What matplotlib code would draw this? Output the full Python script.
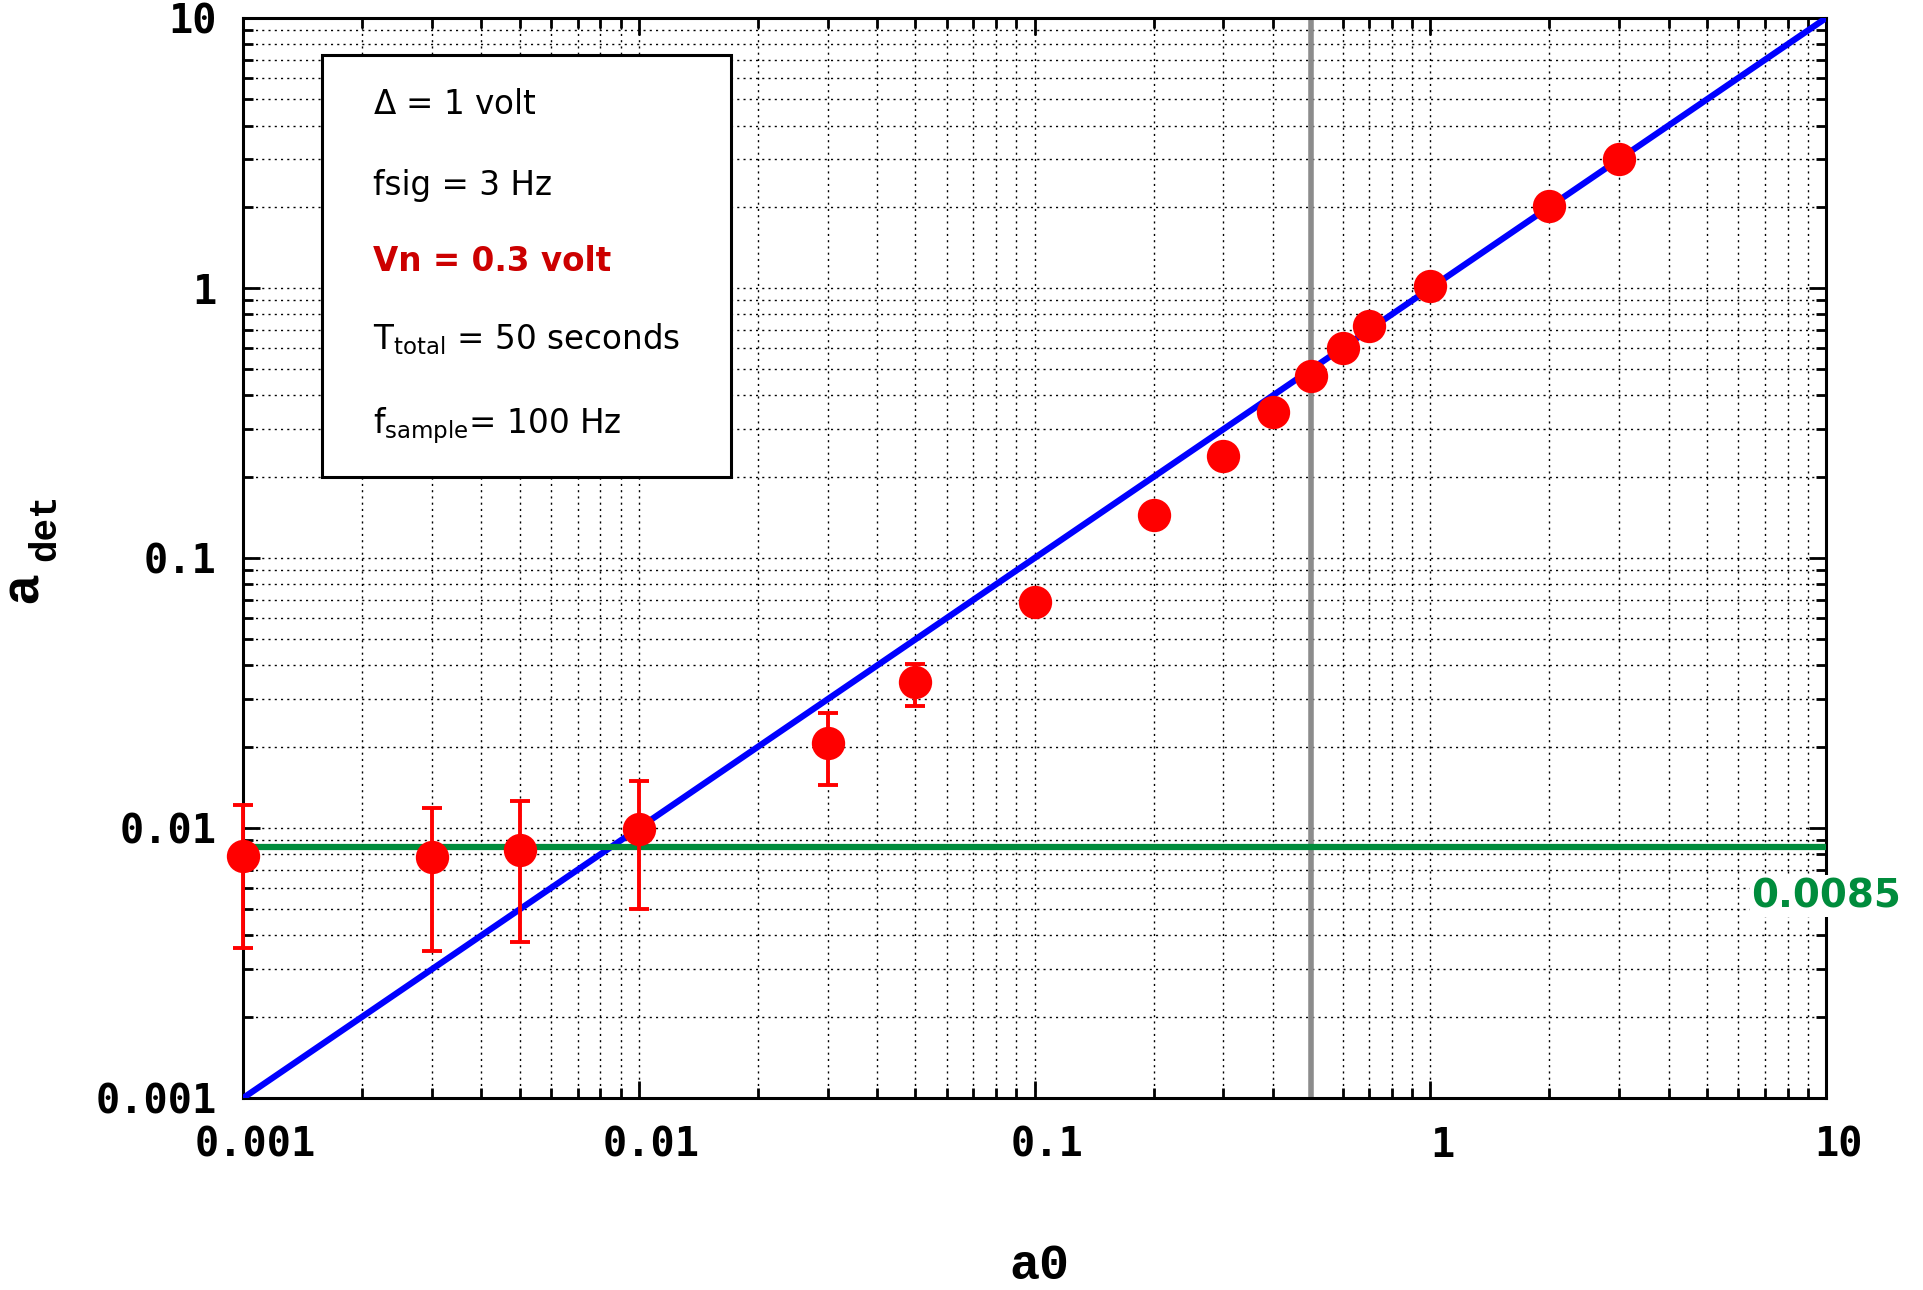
import numpy as np
import matplotlib
matplotlib.use("Agg")
import matplotlib.pyplot as plt
from matplotlib.ticker import LogLocator, NullFormatter, FixedFormatter, FixedLocator
from matplotlib.transforms import ScaledTranslation

# =========================
# DATA
# =========================

a0 = [0.001, 0.003, 0.005, 0.01, 0.03, 0.05, 0.1, 0.2, 0.3, 0.4, 0.5, 0.6, 0.7, 1.0, 2.0, 3.0]
a_det = [0.0079, 0.0078, 0.0083, 0.0099, 0.0206, 0.0348, 0.0686, 0.144, 0.238, 0.348,
         0.471, 0.598, 0.723, 1.02, 2.02, 3.0]
err_hi = [0.0122, 0.0119, 0.0126, 0.0149, 0.0267, 0.0406, 0.0686, 0.144, 0.238, 0.348,
          0.471, 0.598, 0.723, 1.02, 2.02, 3.0]
err_lo = [0.0036, 0.0035, 0.0038, 0.0050, 0.0144, 0.0282, 0.0686, 0.144, 0.238, 0.348,
          0.471, 0.598, 0.723, 1.02, 2.02, 3.0]

ideal_x = [0.001, 10]
threshold = 0.0085
a0_cut = 0.5

tick_vals = [0.001, 0.01, 0.1, 1, 10]
tick_labels = ["0.001", "0.01", "0.1", "1", "10"]

# =========================
# PLOT
# =========================

W, H = 1923, 1290
fig = plt.figure(figsize=(W / 100, H / 100), dpi=100)
ax = fig.add_axes([0.1264, 0.1488, 0.8232, 0.8372])

ax.set_xscale("log")
ax.set_yscale("log")
ax.set_xlim(0.001, 10)
ax.set_ylim(0.001, 10)

# grid
ax.grid(True, which="major", color="black", linestyle=(0, (1.5, 3)), linewidth=1.0)
ax.grid(True, which="minor", color="black", linestyle=(0, (1.5, 3)), linewidth=1.0)

# ideal line a_det = a0
ax.plot(ideal_x, ideal_x, color="#0000ff", linewidth=4.5, zorder=3)
# noise floor
ax.axhline(threshold, color="#008c3c", linewidth=4.5, zorder=3)
# cut line
ax.axvline(a0_cut, color="#8c8c8c", linewidth=4, zorder=2)

yerr = [np.array(a_det) - np.array(err_lo), np.array(err_hi) - np.array(a_det)]
ax.errorbar(a0, a_det, yerr=yerr, fmt="none", ecolor="red", elinewidth=2.8,
            capsize=7, capthick=2.8, zorder=4, clip_on=False)
ax.plot(a0, a_det, "o", color="red", markersize=24, markeredgewidth=0, zorder=5, clip_on=False)

ax.text(1.0, 0.0056, "0.0085", transform=ax.get_yaxis_transform(), color="#008c3c",
        fontsize=28, fontweight="bold", family="DejaVu Sans", ha="center", va="center",
        zorder=6, bbox=dict(facecolor="white", edgecolor="none", pad=1))

# info box
ax.add_patch(plt.Rectangle((0.050, 0.575), 0.258, 0.391, transform=ax.transAxes,
                           facecolor="white", edgecolor="black", linewidth=2.2, zorder=6))
box_x = 0.082
fs = 23.5
ax.text(box_x, 0.920, r"$\Delta$ = 1 volt", transform=ax.transAxes, fontsize=fs,
        va="center", zorder=7)
ax.text(box_x, 0.845, "fsig = 3 Hz", transform=ax.transAxes, fontsize=fs,
        va="center", zorder=7)
ax.text(box_x, 0.775, "Vn = 0.3 volt", transform=ax.transAxes, fontsize=fs,
        fontweight="bold", color="#cc0000", va="center", zorder=7)
ax.text(box_x, 0.703, r"T$_{\mathregular{total}}$ = 50 seconds", transform=ax.transAxes,
        fontsize=fs, va="center", zorder=7)
ax.text(box_x, 0.623, r"f$_{\mathregular{sample}}$= 100 Hz", transform=ax.transAxes,
        fontsize=fs, va="center", zorder=7)

# ticks
for axis in (ax.xaxis, ax.yaxis):
    axis.set_major_locator(FixedLocator(tick_vals))
    axis.set_major_formatter(FixedFormatter(tick_labels))
    axis.set_minor_locator(LogLocator(base=10, subs=np.arange(2, 10), numticks=20))
    axis.set_minor_formatter(NullFormatter())

ax.tick_params(which="both", direction="in", top=True, right=True, width=2)
ax.tick_params(which="major", length=12)
ax.tick_params(which="minor", length=7)
ax.tick_params(axis="x", pad=20)
ax.tick_params(axis="y", pad=19)

for lab in ax.get_xticklabels():
    lab.set_fontfamily("DejaVu Sans Mono")
    lab.set_fontweight("bold")
    lab.set_fontsize(29)
    lab.set_transform(lab.get_transform() + ScaledTranslation(0.12, 0, fig.dpi_scale_trans))
for lab in ax.get_yticklabels():
    lab.set_fontfamily("DejaVu Sans Mono")
    lab.set_fontweight("bold")
    lab.set_fontsize(29)

for sp in ax.spines.values():
    sp.set_linewidth(2.2)

# axis labels (monospace, subscript drawn as a separate smaller text)
fig.text(1039 / W, 1 - 1279 / H, "a0", fontsize=36, fontweight="bold",
         family="Liberation Mono", ha="center", va="baseline")
fig.text(37 / W, 1 - 587 / H, "a", fontsize=38, fontweight="bold", family="Liberation Mono",
         rotation=90, rotation_mode="anchor", ha="center", va="baseline")
fig.text(55 / W, 1 - 527 / H, "det", fontsize=27, fontweight="bold", family="Liberation Mono",
         rotation=90, rotation_mode="anchor", ha="center", va="baseline")

fig.savefig("out.png", dpi=100)
